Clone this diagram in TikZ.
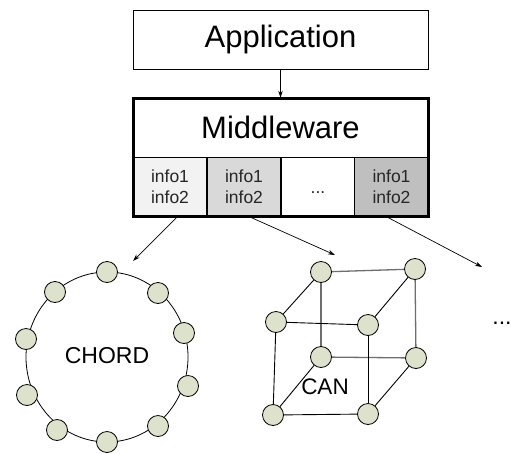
\documentclass[tikz,border=0pt]{standalone}
\usepackage{fontspec}
\setmainfont{Liberation Sans}
\usetikzlibrary{arrows.meta}
\definecolor{peer}{HTML}{DDE2CC}
\definecolor{cellA}{HTML}{F2F2F2}
\definecolor{cellB}{HTML}{D9D9D9}
\definecolor{cellD}{HTML}{BFBFBF}
\definecolor{backedge}{HTML}{6E6E6E}
\tikzset{
  peernode/.style={circle,draw=black,line width=0.8pt,fill=peer,minimum size=21pt,inner sep=0pt},
  cellbox/.style={draw=black,line width=1.2pt,minimum width=74pt,minimum height=59pt,inner sep=0pt,align=center,font=\fontsize{17.5}{21}\selectfont,text=black!85},
  conn/.style={-{Stealth[length=7pt,width=4.5pt]},line width=0.7pt},
  frontedge/.style={line width=0.9pt,black},
  backe/.style={line width=1.3pt,backedge},
}
\begin{document}
\begin{tikzpicture}[x=1pt,y=-1pt]
\useasboundingbox (0,0) rectangle (511,453);
% Application
\node[draw,line width=0.8pt,minimum width=295pt,minimum height=59pt,inner sep=0pt,font=\fontsize{31}{36}\selectfont] (app) at (280.5,39.5) {Application};
% Middleware
\node[minimum width=295pt,minimum height=59pt,inner sep=0pt,font=\fontsize{31}{36}\selectfont] (mw) at (280.5,127.5) {Middleware};
\node[cellbox,fill=cellA] (c1) at (170,187) {info1\\info2};
\node[cellbox,fill=cellB] (c2) at (244,187) {info1\\info2};
\node[cellbox,fill=white] (c3) at (318,187) {};
\node[inner sep=0pt,font=\fontsize{17.5}{21}\selectfont,text=black!85] (c3dots) at (318,193) {...};
\node[cellbox,fill=cellD] (c4) at (391.5,187) {info1\\info2};
\draw[line width=3pt] (133,98) rectangle (428,216.5);
\draw[conn] (app.south) -- (mw.north);
% connectors to overlays
\coordinate (s1) at (177,217);
\coordinate (s2) at (250,217);
\coordinate (s3) at (387,217);
\coordinate (t1) at (133,261);
\coordinate (t2) at (335,255);
\coordinate (t3) at (482,267);
\draw[conn] (s1) -- (t1);
\draw[conn] (s2) -- (t2);
\draw[conn] (s3) -- (t3);
% CHORD ring
\draw[line width=0.8pt] (107,357) ellipse [x radius=81, y radius=85];
\node[font=\fontsize{23}{28}\selectfont] (chord) at (107,356) {CHORD};
\foreach \n/\x/\y in {p1/107/272, p2/158/293, p3/184/333, p4/188/386, p5/158/426, p6/107/442, p7/57/430, p8/27/395, p9/26/339, p10/55/292}
  \node[peernode] (\n) at (\x,\y) {};
% CAN cube
\node[peernode] (btl) at (321,272) {};
\node[peernode] (btr) at (415,269) {};
\node[peernode] (bbl) at (321,357) {};
\node[peernode] (bbr) at (416,358) {};
\node[peernode] (ftl) at (276,322) {};
\node[peernode] (ftr) at (368,325) {};
\node[peernode] (fbl) at (273,415) {};
\node[peernode] (fbr) at (368,414) {};
\draw[backe] (btl) -- (btr);
\draw[backe] (btl) -- (bbl);
\draw[backe] (bbl) -- (bbr);
\draw[backe] (btr) -- (bbr);
\draw[frontedge] (ftl) -- (ftr);
\draw[frontedge] (ftl) -- (fbl);
\draw[frontedge] (ftr) -- (fbr);
\draw[frontedge] (fbl) -- (fbr);
\draw[frontedge] (ftl) -- (btl);
\draw[frontedge] (ftr) -- (btr);
\draw[frontedge] (fbl) -- (bbl);
\draw[frontedge] (fbr) -- (bbr);
\node[font=\fontsize{22.5}{27}\selectfont,inner sep=0pt] (can) at (325,387) {CAN};
\node[font=\fontsize{23}{28}\selectfont] (more) at (502,323) {...};
\end{tikzpicture}
\end{document}
